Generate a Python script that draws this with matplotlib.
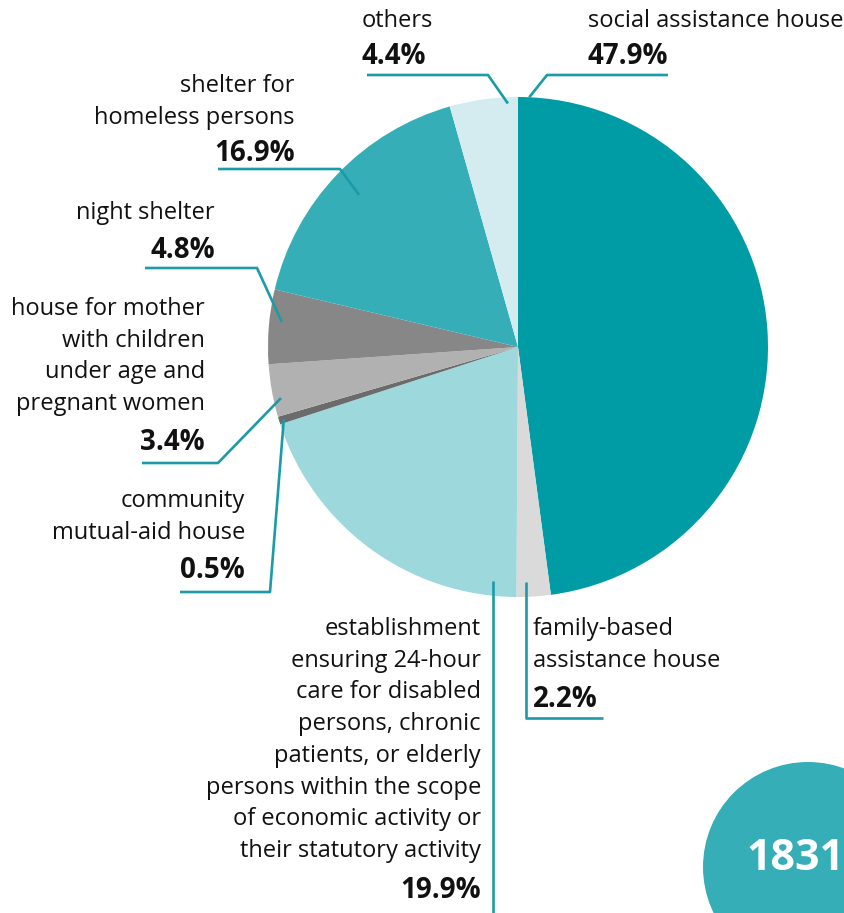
import numpy as np
import matplotlib
matplotlib.use("Agg")
import matplotlib.pyplot as plt
from matplotlib.patches import Circle

# ---------------- data ----------------
labels = [
    "social assistance house",
    "family-based\nassistance house",
    "establishment\nensuring 24-hour\ncare for disabled\npersons, chronic\npatients, or elderly\npersons within the scope\nof economic activity or\ntheir statutory activity",
    "community\nmutual-aid house",
    "house for mother\nwith children\nunder age and\npregnant women",
    "night shelter",
    "shelter for\nhomeless persons",
    "others",
]
shares = [47.9, 2.2, 19.9, 0.5, 3.4, 4.8, 16.9, 4.4]
colors = ["#009ca6", "#dadada", "#9dd8dc", "#6b6b6b", "#b1b1b1", "#878787", "#35aeb8", "#d4ecf0"]
total_count = "1831"

# ---------------- layout (pixels, y from top) ----------------
W, H = 845, 913
cx, cy, R = 518, 347, 250
TXT = "#111111"
LINE = "#1b9ba5"
FS = 17
FS_PCT = 20
STEP = 31.7

def Y(y):
    return H - y

# per label: text x, align, first baseline, pct baseline, anchor frac in wedge, anchor radius, leader path after anchor
layout = [
    dict(x=588, ha="left", y0=27, yp=64, frac=0.015, rr=1.0, path=[(547, 75), (668, 75)]),
    dict(x=533, ha="left", y0=635, yp=707, frac=0.7, rr=0.94, path=["v718", (603, 718)]),
    dict(x=481, ha="right", y0=635, yp=898, frac=0.08, rr=0.94, path=["v913"]),
    dict(x=245, ha="right", y0=507, yp=578, frac=0.5, rr=0.98, path=[(270, 592), (180, 592)]),
    dict(x=205, ha="right", y0=315, yp=450, frac=0.33, rr=0.97, path=[(218, 463), (142, 463)]),
    dict(x=215, ha="right", y0=219, yp=258, frac=0.58, rr=0.95, path=[(257, 268), (145, 268)]),
    dict(x=295, ha="right", y0=92, yp=161, frac=0.5, rr=0.88, path=[(340, 169), (218, 169)]),
    dict(x=362, ha="left", y0=27, yp=64, frac=0.85, rr=0.975, path=[(488, 75), (367, 75)]),
]

plt.rcParams['font.family'] = ['Open Sans', 'DejaVu Sans']

fig = plt.figure(figsize=(W / 100, H / 100), dpi=100)
ax = fig.add_axes([0, 0, 1, 1])

ax.pie(shares, colors=colors, center=(cx, Y(cy)), radius=R,
       startangle=90, counterclock=False,
       wedgeprops=dict(linewidth=0))

ax.set_xlim(0, W)
ax.set_ylim(0, H)
ax.axis("off")

bounds = np.concatenate([[0], np.cumsum(shares)]) / np.sum(shares) * 360

for i, (lab, val, lo) in enumerate(zip(labels, shares, layout)):
    # anchor on wedge (clockwise from top)
    ang = np.deg2rad(bounds[i] + lo["frac"] * (bounds[i + 1] - bounds[i]))
    ax_ = cx + lo["rr"] * R * np.sin(ang)
    ay_ = cy - lo["rr"] * R * np.cos(ang)
    xs, ys = [ax_], [ay_]
    for p in lo["path"]:
        if isinstance(p, str):
            xs.append(xs[-1])
            ys.append(float(p[1:]))
        else:
            xs.append(p[0])
            ys.append(p[1])
    ax.plot(xs, [Y(v) for v in ys], color=LINE, lw=1.9, solid_capstyle="butt")

    for k, line in enumerate(lab.split("\n")):
        ax.text(lo["x"], Y(lo["y0"] + k * STEP), line, ha=lo["ha"], va="baseline",
                fontsize=FS, color=TXT)
    ax.text(lo["x"], Y(lo["yp"]), f"{val:.1f}%", ha=lo["ha"], va="baseline",
            fontsize=FS_PCT, fontweight="bold", color=TXT)

# total badge
ax.add_patch(Circle((808, Y(867)), 105, color="#35aeb8", lw=0, clip_on=True))
ax.text(795, Y(859), total_count, ha="center", va="center", fontsize=31,
        fontweight="bold", color="white")

fig.savefig("out.png", dpi=100)
